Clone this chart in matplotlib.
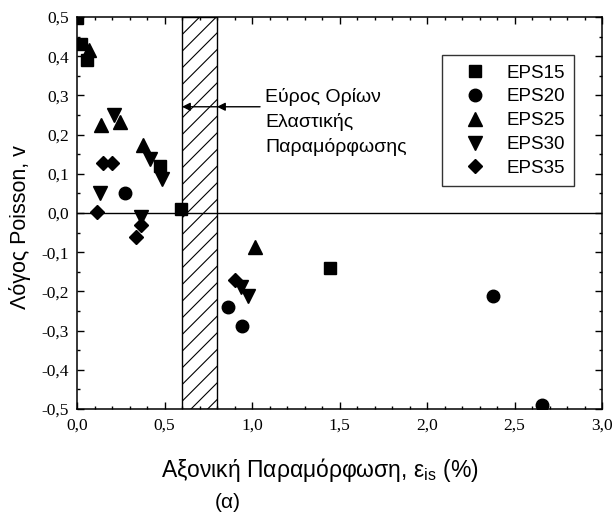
import matplotlib
matplotlib.use("Agg")
import matplotlib.pyplot as plt
from matplotlib.ticker import MultipleLocator, FuncFormatter

plt.rcParams['mathtext.fontset'] = 'custom'
plt.rcParams['mathtext.rm'] = 'Liberation Sans'
plt.rcParams['mathtext.it'] = 'Liberation Sans'
plt.rcParams['hatch.linewidth'] = 0.8

# Data
series_names = ["EPS15", "EPS20", "EPS25", "EPS30", "EPS35"]
eps15_x = [0.002, 0.02, 0.055, 0.474, 0.592, 1.446]
eps15_y = [0.498, 0.43, 0.39, 0.12, 0.01, -0.141]
eps20_x = [0.274, 0.865, 0.943, 2.379, 2.655]
eps20_y = [0.052, -0.241, -0.289, -0.212, -0.491]
eps25_x = [0.07, 0.135, 0.246, 0.375, 1.017]
eps25_y = [0.415, 0.224, 0.233, 0.173, -0.086]
eps30_x = [0.131, 0.213, 0.417, 0.484, 0.366, 0.935, 0.979]
eps30_y = [0.05, 0.25, 0.137, 0.086, -0.01, -0.19, -0.213]
eps35_x = [0.112, 0.147, 0.198, 0.337, 0.366, 0.903]
eps35_y = [0.002, 0.128, 0.128, -0.06, -0.03, -0.171]

elastic_range = (0.6, 0.8)
annotation_text = "Εύρος Ορίων\nΕλαστικής\nΠαραμόρφωσης"

fig = plt.figure(figsize=(6.14, 5.17), dpi=100)
ax = fig.add_axes([77/614, 1-409/517, 525/614, 392/517])

ax.axvspan(elastic_range[0], elastic_range[1], facecolor='white', edgecolor='black',
           hatch='//', linewidth=1.0, zorder=1)
ax.axhline(0, color='black', lw=1.0, zorder=2)

styles = [('s', 8), ('o', 9), ('^', 9.5), ('v', 9.5), ('D', 6.8)]
data = [(eps15_x, eps15_y), (eps20_x, eps20_y), (eps25_x, eps25_y),
        (eps30_x, eps30_y), (eps35_x, eps35_y)]
for name, (m, ms), (xs, ys) in zip(series_names, styles, data):
    ax.plot(xs, ys, linestyle='none', marker=m, markersize=ms, color='black',
            label=name, zorder=3, clip_on=True)

ax.set_xlim(0, 3.0)
ax.set_ylim(-0.5, 0.5)
ax.xaxis.set_major_locator(MultipleLocator(0.5))
ax.xaxis.set_minor_locator(MultipleLocator(0.1))
ax.yaxis.set_major_locator(MultipleLocator(0.1))
ax.yaxis.set_minor_locator(MultipleLocator(0.05))
fmt = FuncFormatter(lambda v, p: ("%.1f" % v).replace('.', ',').replace('-0,0', '0,0'))
ax.xaxis.set_major_formatter(fmt)
ax.yaxis.set_major_formatter(fmt)
ax.tick_params(which='both', direction='in', top=True, right=True, width=1.0)
ax.tick_params(which='major', length=5, pad=6)
ax.tick_params(which='minor', length=2.5)
for lab in ax.get_xticklabels() + ax.get_yticklabels():
    lab.set_fontfamily('Liberation Serif')
    lab.set_fontsize(12.5)
for s in ax.spines.values():
    s.set_linewidth(1.1)

# arrows
ay = 0.271
ax.annotate('', xy=(elastic_range[1], ay), xytext=(1.046, ay),
            arrowprops=dict(arrowstyle='-|>', color='black', lw=1.0,
                            mutation_scale=12, shrinkA=0, shrinkB=0), zorder=4)
ax.annotate('', xy=(elastic_range[0], ay), xytext=(elastic_range[1], ay),
            arrowprops=dict(arrowstyle='-|>', color='black', lw=1.0,
                            mutation_scale=12, shrinkA=0, shrinkB=0), zorder=4)
ax.text(1.074, 0.318, annotation_text, ha='left', va='top', fontsize=14,
        family='Liberation Sans', linespacing=1.5)

leg = ax.legend(loc='upper left', bbox_to_anchor=(441.7/614, 1-55/517),
                bbox_transform=fig.transFigure, borderaxespad=0,
                prop={'family': 'Liberation Sans', 'size': 13.5},
                fancybox=False, frameon=True, edgecolor='black',
                handlelength=2.6, handletextpad=0.35, borderpad=0.5,
                labelspacing=0.36, numpoints=1)
leg.get_frame().set_linewidth(1.0)

fig.text(20/614, 1-227/517, "Λόγος Poisson, v", rotation=90, ha='center', va='center',
         fontsize=15.5, family='Liberation Sans')
fig.text(320/614, 1-470/517, "Αξονική Παραμόρφωση, ε$_{\\rm is}$ (%)", ha='center',
         va='center', fontsize=16.5, family='Liberation Sans')
fig.text(228/614, 1-502/517, "(α)", ha='center', va='center', fontsize=15,
         family='Liberation Sans')

fig.savefig("out.png", dpi=100)
